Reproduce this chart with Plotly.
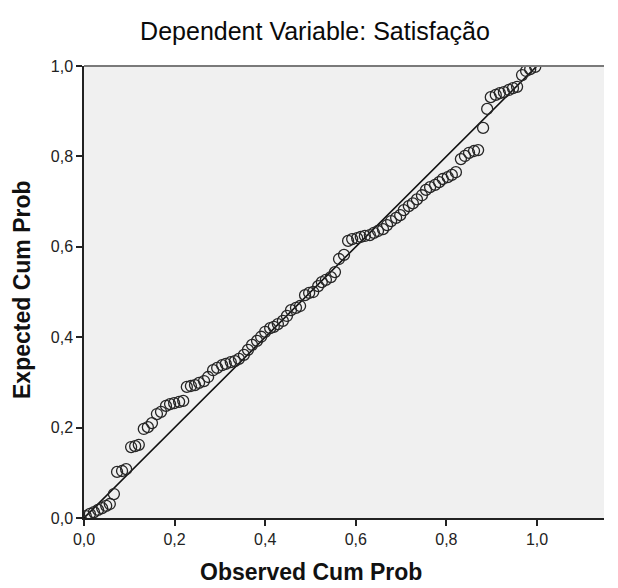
import plotly.graph_objects as go

# Observed cumulative probability (x) and expected cumulative probability (y)
observed_cum_prob = [
    0.004, 0.013, 0.022, 0.031, 0.040, 0.049, 0.057, 0.066, 0.073, 0.084,
    0.093, 0.104, 0.113, 0.121, 0.132, 0.141, 0.150, 0.161, 0.170, 0.181,
    0.190, 0.199, 0.210, 0.219, 0.227, 0.236, 0.245, 0.254, 0.265, 0.274,
    0.285, 0.294, 0.305, 0.313, 0.324, 0.333, 0.342, 0.353, 0.362, 0.371,
    0.382, 0.391, 0.400, 0.411, 0.419, 0.428, 0.439, 0.448, 0.457, 0.468,
    0.477, 0.488, 0.497, 0.506, 0.517, 0.525, 0.534, 0.545, 0.554, 0.563,
    0.574, 0.583, 0.592, 0.603, 0.611, 0.620, 0.631, 0.640, 0.649, 0.660,
    0.669, 0.678, 0.689, 0.698, 0.706, 0.717, 0.726, 0.735, 0.746, 0.755,
    0.764, 0.775, 0.784, 0.792, 0.803, 0.812, 0.821, 0.832, 0.841, 0.850,
    0.861, 0.870, 0.881, 0.890, 0.898, 0.909, 0.918, 0.927, 0.938, 0.947,
    0.956, 0.967, 0.976, 0.985, 0.996,
]
expected_cum_prob = [
    0.004, 0.009, 0.013, 0.018, 0.022, 0.027, 0.031, 0.053, 0.102, 0.104,
    0.108, 0.157, 0.159, 0.162, 0.197, 0.201, 0.210, 0.230, 0.235, 0.248,
    0.252, 0.254, 0.257, 0.259, 0.290, 0.292, 0.294, 0.299, 0.303, 0.312,
    0.327, 0.332, 0.338, 0.341, 0.345, 0.347, 0.352, 0.361, 0.372, 0.383,
    0.392, 0.401, 0.412, 0.420, 0.423, 0.429, 0.436, 0.447, 0.460, 0.465,
    0.469, 0.493, 0.498, 0.500, 0.513, 0.522, 0.527, 0.533, 0.544, 0.573,
    0.582, 0.613, 0.617, 0.619, 0.622, 0.624, 0.626, 0.631, 0.635, 0.639,
    0.648, 0.657, 0.664, 0.670, 0.681, 0.690, 0.696, 0.705, 0.714, 0.726,
    0.732, 0.737, 0.743, 0.750, 0.754, 0.759, 0.765, 0.794, 0.801, 0.808,
    0.812, 0.814, 0.863, 0.905, 0.931, 0.936, 0.940, 0.942, 0.947, 0.951,
    0.954, 0.980, 0.989, 0.993, 0.998,
]
reference_x = [0.0, 1.0]
reference_y = [0.0, 1.0]

tick_vals = [0.0, 0.2, 0.4, 0.6, 0.8, 1.0]
tick_text = ["0,0", "0,2", "0,4", "0,6", "0,8", "1,0"]

title_text = "Dependent Variable: Satisfação"
x_title = "Observed Cum Prob"
y_title = "Expected Cum Prob"

FONT = "Liberation Sans, Arial, sans-serif"

fig = go.Figure()
fig.add_trace(go.Scatter(
    x=reference_x, y=reference_y, mode="lines",
    line=dict(color="#111111", width=1.6), hoverinfo="skip", showlegend=False,
))
fig.add_trace(go.Scatter(
    x=observed_cum_prob, y=expected_cum_prob, mode="markers",
    marker=dict(symbol="circle-open", size=11, color="#262626", line=dict(width=1.3)),
    showlegend=False,
))

W, H = 618, 588
L, R, T, B = 84, 14, 66, 70
pw, ph = W - L - R, H - T - B

fig.update_layout(
    width=W, height=H,
    margin=dict(l=L, r=R, t=T, b=B),
    paper_bgcolor="white",
    plot_bgcolor="#f0f0f0",
    font=dict(family=FONT, color="#222222", size=16),
    title=dict(
        text=title_text, xref="container", yref="container",
        x=315 / W, y=1 - 31 / H, xanchor="center", yanchor="middle",
        font=dict(family=FONT, size=25, color="#0a0a0a"),
    ),
    xaxis=dict(
        range=[0, pw / 453.0], tickvals=tick_vals, ticktext=tick_text,
        showgrid=False, zeroline=False, showline=True, linecolor="#222222", linewidth=1.5,
        ticks="outside", ticklen=6, tickwidth=1.5, tickcolor="#222222",
        tickfont=dict(size=16, color="#222222"),
    ),
    yaxis=dict(
        range=[0, 1], tickvals=tick_vals, ticktext=tick_text,
        showgrid=False, zeroline=False, showline=True, linecolor="#222222", linewidth=1.5,
        ticks="outside", ticklen=6, tickwidth=1.5, tickcolor="#222222",
        tickfont=dict(size=16, color="#222222"),
    ),
    shapes=[dict(
        type="line", xref="paper", yref="paper", x0=0, x1=1, y0=1, y1=1,
        line=dict(color="#7a7a7a", width=2),
    )],
    annotations=[
        dict(text="<b>" + x_title + "</b>", xref="paper", yref="paper",
             x=(311 - L) / pw, y=(518 - 572) / ph, xanchor="center", yanchor="middle",
             showarrow=False, font=dict(family=FONT, size=23, color="#111111")),
        dict(text="<b>" + y_title + "</b>", xref="paper", yref="paper",
             x=(22 - L) / pw, y=(518 - 290) / ph, xanchor="center", yanchor="middle",
             textangle=-90, showarrow=False, font=dict(family=FONT, size=23, color="#111111")),
    ],
)

fig.write_html("out.html")
